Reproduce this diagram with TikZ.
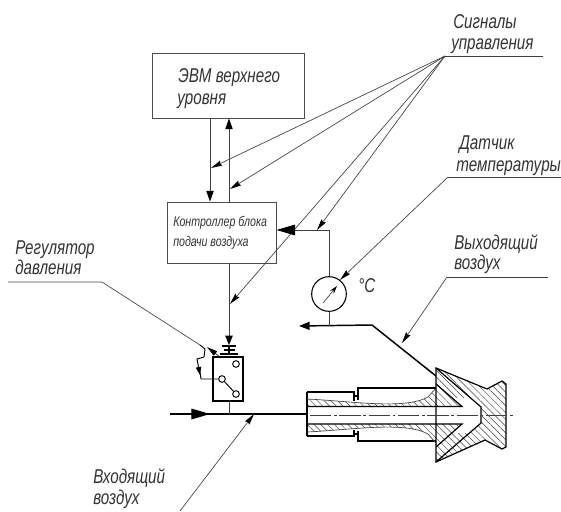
\documentclass[tikz,border=0pt]{standalone}
\usepackage{fontspec}
\setmainfont{Liberation Sans}
\newfontfamily\gostfont[FakeStretch=0.76]{Liberation Sans}
\usetikzlibrary{arrows.meta,patterns.meta,calc}
\tikzset{
  thinline/.style={draw=black!75, line width=0.5pt},
  mainline/.style={draw=black, line width=0.9pt},
  leader/.style={thinline, -{Stealth[length=8.5pt,width=4pt,inset=1pt,black]}},
  flowtip/.style={-{Stealth[length=14pt,width=8pt,inset=0pt,black]}},
  blockbox/.style={draw=black!70, line width=0.7pt, inner sep=0pt},
  caption/.style={font=\gostfont\itshape\fontsize{15}{15}\selectfont, inner sep=0pt, anchor=base west, text=black!80},
  smallcaption/.style={caption, font=\gostfont\itshape\fontsize{10.5}{11}\selectfont},
  hatched/.style={pattern={Lines[angle=-45,distance=3.6pt,line width=0.35pt]}, pattern color=black!75},
}
\begin{document}
\begin{tikzpicture}[x=0.75pt, y=-0.75pt]
  \useasboundingbox (0,0) rectangle (561,511);
  % blocks
  \node[blockbox, minimum width=114pt, minimum height=48.75pt] (upper) at (228,85.5) {};
  \node[blockbox, minimum width=81.75pt, minimum height=45.75pt] (control) at (221.5,232.5) {};
  \node[caption] (uppertext) at (178,82) {ЭВМ верхнего};
  \node[caption] (uppertexttwo) at (177,104) {уровня};
  \node[smallcaption] (controltext) at (173,226) {Контроллер блока};
  \node[smallcaption] (controltexttwo) at (173,246) {подачи воздуха};

  % captions
  \node[caption] (signaltext) at (453,28) {Сигналы};
  \node[caption] (signaltexttwo) at (451,49) {управления};
  \node[caption] (sensortext) at (459,149) {Датчик};
  \node[caption] (sensortexttwo) at (456,171) {температуры};
  \node[caption] (outtext) at (454,249) {Выходящий};
  \node[caption] (outtexttwo) at (454,269) {воздух};
  \node[caption] (regtext) at (15,254) {Регулятор};
  \node[caption] (regtexttwo) at (15,274) {давления};
  \node[caption] (intext) at (93,483) {Входящий};
  \node[caption] (intexttwo) at (93,504) {воздух};
  \node[caption] (degtext) at (358,292) {°C};

  % signal leaders
  \coordinate (sigbase) at (445,56);
  \coordinate (sigend) at (543,56);
  \coordinate (sigone) at (211,168);
  \coordinate (sigtwo) at (230,189);
  \coordinate (sigthree) at (230,304);
  \coordinate (sigfour) at (317,230);
  \draw[thinline] (sigbase) -- (sigend);
  \draw[leader] (sigbase) -- (sigone);
  \draw[leader] (sigbase) -- (sigtwo);
  \draw[leader] (sigbase) -- (sigthree);
  \draw[leader] (sigbase) -- (sigfour);

  % block connections
  \draw[thinline, line width=0.7pt, -{Stealth[length=8pt,width=5.5pt,inset=0pt,black]}] (upper.south -| 210,0) -- (control.north -| 210,0);
  \draw[thinline, line width=0.7pt, -{Stealth[length=8pt,width=5.5pt,inset=0pt,black]}] (control.north -| 229,0) -- (upper.south -| 229,0);

  % temperature sensor
  \node[draw=black, line width=0.8pt, circle, inner sep=0pt, minimum size=26pt] (gauge) at (329,294) {};
  \coordinate (gaugeturn) at (329,230);
  \coordinate (needlefoot) at (323,303);
  \coordinate (needletip) at (337,286);
  \draw[thinline, line width=0.7pt, flowtip] (gauge.north) -- (gaugeturn) -- (control.east |- gaugeturn);
  \draw[thinline, -{Stealth[length=6pt,width=3.5pt,black]}] (needlefoot) -- (needletip);
  \coordinate (sensorbase) at (448,177);
  \coordinate (sensorend) at (561,177);
  \draw[thinline] (sensorbase) -- (sensorend);
  \draw[leader] (sensorbase) -- (gauge.52);

  % outlet air
  \coordinate (outstart) at (436,376);
  \coordinate (outbend) at (372,325);
  \coordinate (outend) at (299,326);
  \draw[mainline, line width=1.1pt, -{Stealth[length=8pt,width=6pt,inset=0pt]}] (outstart) -- (outbend) -- (outend);
  \draw[thinline] (gauge.south) -- (gauge.south |- outend);
  \coordinate (outbase) at (447,277);
  \coordinate (outlabelend) at (548,277);
  \coordinate (outtip) at (402,343);
  \draw[thinline] (outbase) -- (outlabelend);
  \draw[leader] (outbase) -- (outtip);

  % pressure regulator
  \node[draw=black, line width=1.1pt, inner sep=0pt, minimum width=22.5pt, minimum height=33pt] (valve) at (228,379) {};
  \coordinate (pilot) at (229,345);
  \draw[thinline, line width=0.7pt, -{Stealth[length=7pt,width=5.5pt,inset=0pt,black]}] (control.south -| pilot) -- (pilot);
  \draw[mainline, line width=1.2pt] (222,346) -- (236,346) (224,350) -- (235,350) (220,354) -- (238,354);
  \draw[mainline] (229,345) -- (229,354);
  \node[draw=black, line width=0.7pt, circle, inner sep=0pt, minimum size=5pt] (portup) at (236,364) {};
  \node[draw=black, line width=0.7pt, circle, inner sep=0pt, minimum size=5pt] (portmid) at (222,379) {};
  \node[draw=black, line width=0.7pt, circle, inner sep=0pt, minimum size=5pt] (portlow) at (236,394) {};
  \draw[mainline, line width=0.7pt] (portmid) -- (portlow);
  \coordinate (springfoot) at (201,379);
  \draw[mainline, line width=0.7pt] (portmid) -- (springfoot) -- (200,372);
  \draw[mainline, line width=0.7pt, -{Stealth[length=6pt,width=4pt,inset=0pt]}] (200,345) -- (205,349) -- (204,357) -- (197,359) -- (200,375);
  \coordinate (regbase) at (102,282);
  \coordinate (regstart) at (8,282);
  \coordinate (regtip) at (200,345);
  \draw[thinline] (regstart) -- (regbase) -- (regtip);
  \draw[thinline, line width=0.7pt, -{Stealth[length=8pt,width=4pt,inset=0pt,black]}] (valve.north -| 219,0) -- (207,347);

  % inlet air
  \coordinate (inletstart) at (170,414);
  \coordinate (inletend) at (307,414);
  \coordinate (inletmark) at (254,414);
  \coordinate (intail) at (180,511);
  \draw[mainline] (inletstart) -- (inletend);
  \draw[mainline, flowtip] (inletstart) -- (210,414);
  \draw[thinline] (valve.south -| 229,0) -- (229,414);
  \draw[leader] (intail) -- (inletmark);

  % nozzle
  \fill[hatched] (436,368) -- (487,389) -- (502,381) -- (506,384) -- (506,447) -- (502,449) -- (485,440) -- (436,462) -- (481,423) -- (481,407) -- cycle;
  \fill[hatched] (436,368) -- (471,398) -- (452,398) -- (436,384) -- cycle;
  \fill[hatched] (436,462) -- (471,433) -- (452,433) -- (436,447) -- cycle;
  \fill[hatched] (307,399) .. controls (350,401) and (405,410) .. (428,397) -- (436,388) -- (436,384) -- (462,407) -- (307,407) -- cycle;
  \fill[hatched] (307,432) .. controls (350,430) and (405,421) .. (428,434) -- (436,443) -- (436,447) -- (462,424) -- (307,424) -- cycle;
  \draw[mainline] (307,392) -- (354,392) -- (354,401);
  \draw[mainline] (307,436) -- (354,436) -- (354,430);
  \draw[mainline] (307,392) -- (307,436);
  \draw[mainline] (354,396) -- (358,396) (354,434) -- (358,434);
  \draw[mainline] (358,400) -- (358,388) -- (436,388);
  \draw[mainline] (358,431) -- (358,441) -- (436,441);
  \draw[mainline] (307,406.5) -- (462,406.5) -- (436,384);
  \draw[mainline] (307,424) -- (462,424) -- (436,447);
  \draw[thinline] (307,399) .. controls (350,401) and (405,410) .. (428,397) -- (436,388);
  \draw[thinline] (307,432) .. controls (350,430) and (405,421) .. (428,434) -- (436,443);
  \draw[mainline] (436,368) -- (487,389) -- (502,381) -- (506,384) -- (506,447) -- (502,449) -- (485,440) -- (436,462) -- cycle;
  \draw[mainline] (436,368) -- (481,407) -- (481,423) -- (436,462);
  \draw[thinline, dash pattern=on 16pt off 2pt on 2pt off 2pt] (310,415) -- (514,415);
\end{tikzpicture}
\end{document}
